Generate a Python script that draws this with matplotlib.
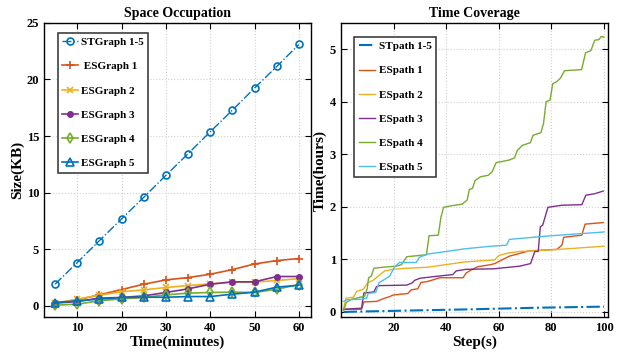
import matplotlib.pyplot as plt

plt.rcParams['font.family'] = ['Liberation Serif', 'DejaVu Serif']
plt.rcParams['font.weight'] = 'bold'

# ---- datos: Space Occupation ----
minutos = [5, 10, 15, 20, 25, 30, 35, 40, 45, 50, 55, 60]
st_graph = [1.91, 3.82, 5.76, 7.68, 9.59, 11.53, 13.44, 15.38, 17.29, 19.24, 21.15, 23.09]
es_graph1 = [0.24, 0.53, 0.97, 1.44, 1.91, 2.29, 2.5, 2.79, 3.2, 3.7, 4.0, 4.18]
es_graph2 = [0.24, 0.59, 0.94, 1.24, 1.41, 1.62, 1.79, 1.94, 2.09, 2.09, 2.24, 2.4]
es_graph3 = [0.24, 0.38, 0.68, 0.74, 0.88, 1.18, 1.5, 1.91, 2.12, 2.12, 2.59, 2.59]
es_graph4 = [0.06, 0.15, 0.44, 0.62, 0.74, 0.97, 1.12, 1.18, 1.21, 1.18, 1.47, 1.88]
es_graph5 = [0.29, 0.44, 0.59, 0.74, 0.76, 0.76, 0.82, 0.82, 1.03, 1.21, 1.65, 1.82]

# ---- datos: Time Coverage (vertices de cada curva) ----
st_path_x = [1, 25, 50, 75, 100]
st_path_y = [0.0, 0.025, 0.05, 0.08, 0.1]

es_path1_x = [1, 7.8, 8.7, 13.5, 16.6, 18.5, 19.7, 25.4, 26.7, 29.2, 30.4, 33, 35, 37.5, 46.4, 47.6, 49.6,
              52, 57, 58.5, 60.4, 62, 64, 67.7, 71.4, 82.1, 84, 84.7, 91.6, 92.8, 99.7]
es_path1_y = [0.05, 0.05, 0.19, 0.2, 0.26, 0.29, 0.32, 0.35, 0.42, 0.44, 0.56, 0.58, 0.61, 0.65, 0.65, 0.74, 0.8,
              0.86, 0.9, 0.92, 0.97, 1.01, 1.06, 1.11, 1.16, 1.19, 1.27, 1.42, 1.46, 1.67, 1.7]

es_path2_x = [1, 1.9, 4.7, 6, 8.4, 10.3, 12.2, 14.1, 16.6, 19.7, 24.8, 33, 40, 47, 58.5, 59.5, 60.4,
              63.6, 68, 80, 100]
es_path2_y = [0.07, 0.26, 0.28, 0.39, 0.43, 0.56, 0.6, 0.68, 0.78, 0.81, 0.83, 0.85, 0.9, 0.95, 0.99, 1.05, 1.08,
              1.12, 1.15, 1.18, 1.25]

es_path3_x = [1, 7.8, 8.7, 12.5, 13.5, 14.7, 25, 27, 28, 30, 31.7, 36.8, 42.5, 43.8, 47.6, 58, 63.9,
              68, 72.1, 73.7, 75, 75.8, 76.7, 78.7, 84, 91.6, 93.1, 96.6, 99.7]
es_path3_y = [0.05, 0.07, 0.36, 0.38, 0.48, 0.5, 0.51, 0.55, 0.6, 0.64, 0.65, 0.68, 0.71, 0.78, 0.81, 0.82, 0.85,
              0.87, 0.92, 1.15, 1.15, 1.62, 1.65, 1.99, 2.03, 2.04, 2.22, 2.25, 2.3]

es_path4_x = [1, 2, 4, 9, 10, 10.5, 11.5, 12.5, 16, 21, 23, 25, 29, 32.5, 33.5, 37, 38, 39, 42, 46, 48,
              48.8, 50, 51, 53, 56, 57.5, 59, 64, 66, 67, 69, 72, 73, 76, 77, 78, 79.5, 80.5, 82, 83.5,
              85, 91.5, 93, 95, 96.5, 98, 99, 100]
es_path4_y = [0.03, 0.18, 0.24, 0.3, 0.45, 0.65, 0.68, 0.83, 0.85, 0.87, 0.9, 1.05, 1.07, 1.09, 1.45, 1.46, 1.8,
              1.99, 2.02, 2.05, 2.13, 2.33, 2.35, 2.5, 2.57, 2.6, 2.67, 2.84, 2.89, 2.93, 3.07, 3.17, 3.22,
              3.36, 3.41, 3.58, 4.0, 4.03, 4.34, 4.38, 4.45, 4.59, 4.61, 4.93, 4.97, 5.17, 5.18, 5.24, 5.23]

es_path5_x = [1, 2, 7.2, 9.7, 10.3, 13.2, 14.5, 16, 18.5, 20.4, 22.3, 28.6, 29.8, 33, 40, 47, 57, 63,
              64, 80, 100]
es_path5_y = [0.2, 0.23, 0.24, 0.26, 0.35, 0.37, 0.56, 0.6, 0.68, 0.86, 0.94, 0.94, 1.04, 1.1, 1.15, 1.2, 1.25,
              1.27, 1.38, 1.45, 1.52]

# colores estilo MATLAB
c_azul = '#0072BD'
c_naranja = '#D95319'
c_amarillo = '#EDB120'
c_morado = '#7E2F8E'
c_verde = '#77AC30'
c_celeste = '#4DBEEE'

fig = plt.figure(figsize=(6.28, 3.52), dpi=100)
ax1 = fig.add_axes([0.070, 0.099, 0.425, 0.836])
ax2 = fig.add_axes([0.543, 0.099, 0.425, 0.836])

# ---- Gráfico izquierdo ----
ax1.plot(minutos, st_graph, linestyle='-.', marker='o', color=c_azul, lw=1, ms=5, mfc='none', mew=1.2, label='STGraph 1-5')
ax1.plot(minutos, es_graph1, marker='+', color=c_naranja, lw=1.2, ms=6, mew=1.2, label=' ESGraph 1')
ax1.plot(minutos, es_graph2, marker='x', color=c_amarillo, lw=1.2, ms=4, mew=1.2, label='ESGraph 2')
ax1.plot(minutos, es_graph3, marker='o', color=c_morado, lw=1.2, ms=4, label='ESGraph 3')
ax1.plot(minutos, es_graph4, marker='d', color=c_verde, lw=1.2, ms=5, mfc='none', mew=1.2, label='ESGraph 4')
ax1.plot(minutos, es_graph5, marker='^', color=c_azul, lw=1.2, ms=6, mfc='none', mew=1.2, label='ESGraph 5')

ax1.set_xlim(2.5, 62.7)
ax1.set_ylim(-1, 25)
ax1.set_xticks([10, 20, 30, 40, 50, 60])
ax1.set_yticks([0, 5, 10, 15, 20, 25])
ax1.set_xlabel('Time(minutes)', fontsize=11, fontweight='bold', labelpad=1)
ax1.set_ylabel('Size(KB)', fontsize=11, fontweight='bold', labelpad=2)
ax1.set_title('Space Occupation', fontsize=10, fontweight='bold', pad=4)
leg1 = ax1.legend(loc='upper left', bbox_to_anchor=(0.052, 0.966), fontsize=8, fancybox=False,
                  edgecolor='#404040', framealpha=1, labelspacing=1.3, handlelength=1.45,
                  handletextpad=0.25, borderpad=0.4, borderaxespad=0)
leg1.get_frame().set_linewidth(1.2)

# ---- Gráfico derecho ----
ax2.plot(st_path_x, st_path_y, linestyle='-.', color=c_azul, lw=1.5, label='STpath 1-5')
ax2.plot(es_path1_x, es_path1_y, color=c_naranja, lw=1, label='ESpath 1')
ax2.plot(es_path2_x, es_path2_y, color=c_amarillo, lw=1, label='ESpath 2')
ax2.plot(es_path3_x, es_path3_y, color=c_morado, lw=1, label='ESpath 3')
ax2.plot(es_path4_x, es_path4_y, color=c_verde, lw=1, label='ESpath 4')
ax2.plot(es_path5_x, es_path5_y, color=c_celeste, lw=1, label='ESpath 5')

ax2.set_xlim(0, 101.5)
ax2.set_ylim(-0.1, 5.5)
ax2.set_xticks([20, 40, 60, 80, 100])
ax2.set_yticks([0, 1, 2, 3, 4, 5])
ax2.set_xlabel('Step(s)', fontsize=11, fontweight='bold', labelpad=1)
ax2.set_ylabel('Time(hours)', fontsize=11, fontweight='bold', labelpad=2)
ax2.set_title('Time Coverage', fontsize=10, fontweight='bold', pad=4)
leg2 = ax2.legend(loc='upper left', bbox_to_anchor=(0.049, 0.952), fontsize=8, fancybox=False,
                  edgecolor='#404040', framealpha=1, labelspacing=1.3, handlelength=1.45,
                  handletextpad=0.35, borderpad=0.4, borderaxespad=0)
leg2.get_frame().set_linewidth(1.2)

for ax in (ax1, ax2):
    ax.grid(True, linestyle=':', color='#d0d0d0', lw=0.8)
    ax.tick_params(direction='in', top=True, right=True, labelsize=9, length=4, width=0.8)
    for lbl in ax.get_xticklabels() + ax.get_yticklabels():
        lbl.set_fontweight('bold')
    for s in ax.spines.values():
        s.set_linewidth(1.0)

plt.savefig('out.png', dpi=100)
